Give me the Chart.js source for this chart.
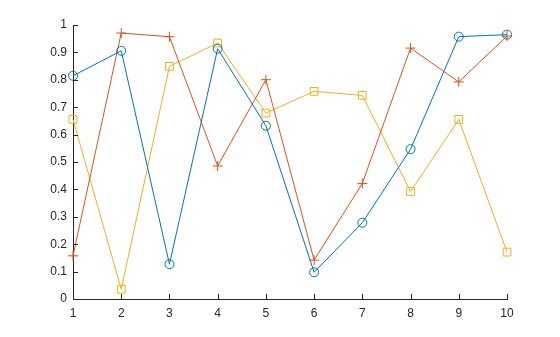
<!DOCTYPE html>
<html>
<head>
<meta charset="utf-8">
<script src="https://cdn.jsdelivr.net/npm/chart.js@4"></script>
<style>
  html, body { margin: 0; padding: 0; background: #fff; }
  #wrap { width: 560px; height: 337px; }
</style>
</head>
<body>
<div id="wrap"><canvas id="plot" width="560" height="337"></canvas></div>
<script>
// values
const xValues = [1, 2, 3, 4, 5, 6, 7, 8, 9, 10];
const blueSeries = [0.8147, 0.9058, 0.1270, 0.9134, 0.6324, 0.0975, 0.2785, 0.5469, 0.9575, 0.9649];
const redSeries = [0.1576, 0.9706, 0.9572, 0.4854, 0.8003, 0.1419, 0.4218, 0.9157, 0.7922, 0.9595];
const yellowSeries = [0.6557, 0.0357, 0.8491, 0.9340, 0.6787, 0.7577, 0.7431, 0.3922, 0.6555, 0.1712];

const axisColor = "#262626";
const fontFamily = "'Liberation Sans', Arial, Helvetica, sans-serif";

function toPoints(ys) {
  return xValues.map((x, i) => ({ x: x, y: ys[i] }));
}

function series(ys, color, style, radius) {
  return {
    data: toPoints(ys),
    borderColor: color,
    borderWidth: 1,
    pointStyle: style,
    pointRadius: radius,
    pointHoverRadius: radius,
    pointBorderColor: color,
    pointBackgroundColor: "rgba(0,0,0,0)",
    pointBorderWidth: 1,
    tension: 0,
    fill: false,
    clip: false,
  };
}

// MATLAB style ticks pointing inward
const inwardTicks = {
  id: "inwardTicks",
  afterDraw(chart) {
    const ctx = chart.ctx;
    const xs = chart.scales.x;
    const ys = chart.scales.y;
    const area = chart.chartArea;
    ctx.save();
    ctx.strokeStyle = axisColor;
    ctx.lineWidth = 1;
    ctx.beginPath();
    xs.ticks.forEach(t => {
      const px = Math.round(xs.getPixelForValue(t.value)) + 0.5;
      ctx.moveTo(px, area.bottom);
      ctx.lineTo(px, area.bottom - 5);
    });
    ys.ticks.forEach(t => {
      const py = Math.round(ys.getPixelForValue(t.value)) + 0.5;
      ctx.moveTo(area.left, py);
      ctx.lineTo(area.left + 5, py);
    });
    ctx.stroke();
    ctx.restore();
  }
};

new Chart(document.getElementById("plot"), {
  type: "line",
  data: {
    datasets: [
      series(blueSeries, "#0072BD", "circle", 4.5),
      series(redSeries, "#D95319", "cross", 5),
      series(yellowSeries, "#EDB120", "rect", 5.5),
    ],
  },
  options: {
    responsive: false,
    animation: false,
    events: [],
    layout: { padding: { top: 25, right: 53, left: 0, bottom: 0 } },
    plugins: {
      legend: { display: false },
      tooltip: { enabled: false },
    },
    scales: {
      x: {
        type: "linear",
        min: 1,
        max: 10,
        ticks: {
          stepSize: 1,
          padding: 7,
          color: axisColor,
          font: { family: fontFamily, size: 12 },
          maxRotation: 0,
        },
        grid: { drawOnChartArea: false, drawTicks: false },
        border: { color: axisColor, width: 1 },
        afterFit(scale) { scale.height = 38; },
      },
      y: {
        type: "linear",
        min: 0,
        max: 1,
        ticks: {
          stepSize: 0.1,
          padding: 6,
          color: axisColor,
          font: { family: fontFamily, size: 12 },
          callback: v => String(Math.round(v * 10) / 10),
        },
        grid: { drawOnChartArea: false, drawTicks: false },
        border: { color: axisColor, width: 1 },
        afterFit(scale) { scale.width = 73; },
      },
    },
  },
  plugins: [inwardTicks],
});
</script>
</body>
</html>
